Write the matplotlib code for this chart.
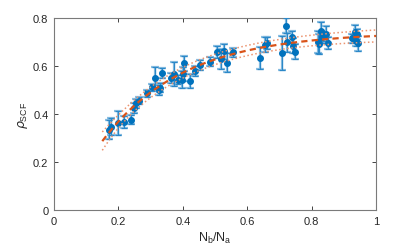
import numpy as np
import matplotlib
matplotlib.use("Agg")
import matplotlib.pyplot as plt

plt.rcParams['font.family'] = ['Liberation Sans', 'DejaVu Sans']

ratio = [0.171, 0.176, 0.198, 0.217, 0.238, 0.249, 0.255, 0.265, 0.288, 0.305,
         0.314, 0.326, 0.328, 0.336, 0.362, 0.374, 0.386, 0.398, 0.400, 0.403,
         0.423, 0.438, 0.452, 0.485, 0.507, 0.520, 0.528, 0.536, 0.555, 0.639,
         0.656, 0.660, 0.709, 0.722, 0.723, 0.739, 0.742, 0.749, 0.821, 0.824,
         0.830, 0.832, 0.844, 0.850, 0.924, 0.936, 0.942, 0.939, 0.943]
rho = [0.335, 0.347, 0.361, 0.367, 0.377, 0.424, 0.444, 0.455, 0.486, 0.511,
       0.550, 0.501, 0.510, 0.570, 0.551, 0.568, 0.543, 0.543, 0.567, 0.611,
       0.537, 0.578, 0.605, 0.618, 0.657, 0.629, 0.661, 0.613, 0.657, 0.633,
       0.689, 0.696, 0.654, 0.768, 0.699, 0.720, 0.685, 0.660, 0.699, 0.692,
       0.745, 0.720, 0.735, 0.694, 0.715, 0.740, 0.733, 0.703, 0.694]
err = [0.04, 0.035, 0.05, 0.025, 0.02, 0.02, 0.02, 0.015, 0.015, 0.015,
       0.045, 0.02, 0.02, 0.02, 0.02, 0.05, 0.02, 0.035, 0.03, 0.03,
       0.03, 0.02, 0.02, 0.02, 0.025, 0.04, 0.03, 0.04, 0.02, 0.045,
       0.03, 0.025, 0.07, 0.03, 0.04, 0.025, 0.03, 0.03, 0.045, 0.04,
       0.04, 0.025, 0.03, 0.025, 0.02, 0.03, 0.02, 0.02, 0.03]

xticks = [0, 0.2, 0.4, 0.6, 0.8, 1]
xticklabels = ['0', '0.2', '0.4', '0.6', '0.8', '1']
yticks = [0, 0.2, 0.4, 0.6, 0.8]
yticklabels = ['0', '0.2', '0.4', '0.6', '0.8']

x = np.array(ratio)
y = np.array(rho)

# fit y = a - b*exp(-c x) by grid search on c
best = None
for c in np.linspace(0.5, 10, 951):
    A = np.column_stack([np.ones_like(x), -np.exp(-c * x)])
    coef, *_ = np.linalg.lstsq(A, y, rcond=None)
    r = y - A @ coef
    s = np.sum(r ** 2)
    if best is None or s < best[0]:
        best = (s, c, coef)
s, c, (a, b) = best

def model(xx, p):
    return p[0] - p[1] * np.exp(-p[2] * xx)

p = np.array([a, b, c])
n = len(x)
J = np.column_stack([np.ones_like(x), -np.exp(-c * x), b * x * np.exp(-c * x)])
sigma2 = s / (n - 3)
cov = sigma2 * np.linalg.inv(J.T @ J)

xf = np.linspace(0.15, 1.0, 200)
yf = model(xf, p)
Jf = np.column_stack([np.ones_like(xf), -np.exp(-c * xf), b * xf * np.exp(-c * xf)])
se = np.sqrt(np.einsum('ij,jk,ik->i', Jf, cov, Jf))
band = np.sqrt(0.019 ** 2 + (2.0 * se) ** 2)

fig = plt.figure(figsize=(4.15, 2.53), dpi=100)
ax = fig.add_axes([54 / 415, 42 / 253, 322 / 415, 192 / 253])

blue = '#0072BD'
orange = '#D95319'

ax.errorbar(x, y, yerr=err, fmt='none', ecolor='#8cbfe2', elinewidth=1.6, capsize=3.2, capthick=1.6, zorder=2)
ax.errorbar(x, y, yerr=err, fmt='o', color=blue, ecolor='#2b88c8', elinewidth=0.9, capsize=2.5, capthick=0.9,
            markersize=4, zorder=3)
ax.plot(xf, yf, '--', color=orange, lw=1.6, dashes=(2.8, 1.9), zorder=4)
ax.plot(xf, yf + band, ':', color='#ec9470', lw=1.1, zorder=4)
ax.plot(xf, yf - band, ':', color='#ec9470', lw=1.1, zorder=4)

ax.set_xlim(0, 1)
ax.set_ylim(0, 0.8)
ax.set_xticks(xticks)
ax.set_xticklabels(xticklabels)
ax.set_yticks(yticks)
ax.set_yticklabels(yticklabels)
ax.tick_params(direction='in', length=3, width=0.6, colors='#262626', labelsize=8,
               top=True, right=True, pad=4)
for sp in ax.spines.values():
    sp.set_color('#7a7a7a')
    sp.set_linewidth(0.8)

ax.set_xlabel(r'N$_\mathregular{b}$/N$_\mathregular{a}$', fontsize=9, color='#262626', labelpad=3)
ax.set_ylabel(r'$\rho_{\mathregular{SCF}}$', fontsize=9, color='#262626', labelpad=2)

fig.savefig('out.png', dpi=100)
